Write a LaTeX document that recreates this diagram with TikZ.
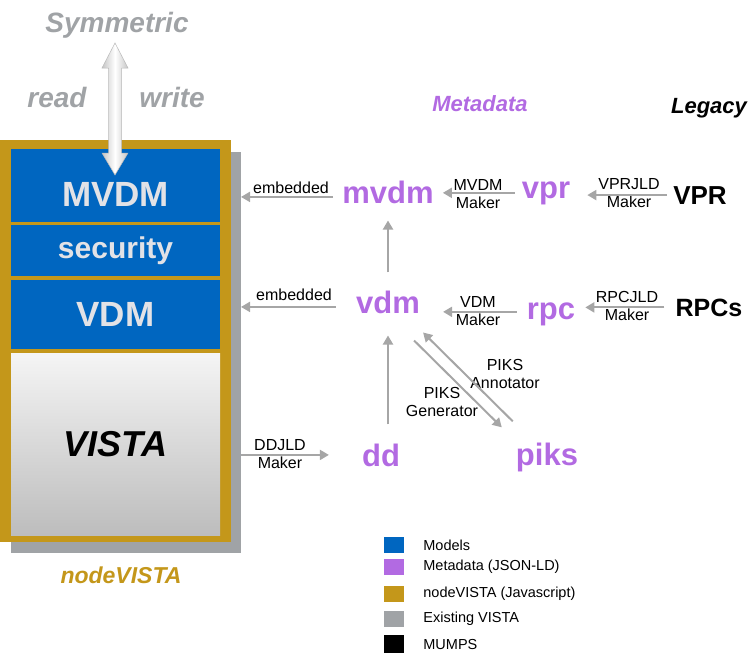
\documentclass[tikz,border=0pt]{standalone}
\usepackage{fontspec}
\setmainfont{Liberation Sans}
\usetikzlibrary{arrows.meta, positioning}

\definecolor{modelblue}{RGB}{0,102,192}
\definecolor{metapurple}{RGB}{178,106,226}
\definecolor{nodegold}{RGB}{196,151,26}
\definecolor{vistagray}{RGB}{160,163,166}
\definecolor{flowgray}{RGB}{166,166,166}
\definecolor{boxtextgray}{RGB}{226,226,230}

\begin{document}
\begin{tikzpicture}[
    x=1pt, y=-1pt,
    backshadow/.style={rectangle, fill=vistagray, minimum width=230pt, minimum height=401pt, anchor=north west, inner sep=0pt, outer sep=0pt},
    frame/.style={rectangle, fill=nodegold, minimum width=231pt, minimum height=402pt, anchor=north west, inner sep=0pt, outer sep=0pt},
    model/.style={rectangle, fill=modelblue, minimum width=209pt, inner sep=0pt, outer sep=0pt, text=boxtextgray, font=\fontsize{35}{35}\selectfont\bfseries},
    vista/.style={rectangle, top color=black!4, bottom color=black!26, minimum width=209pt, inner sep=0pt, outer sep=0pt, font=\fontsize{36}{36}\selectfont\bfseries\itshape},
    meta/.style={font=\fontsize{31}{31}\selectfont\bfseries, text=metapurple, inner sep=0pt},
    legacy/.style={font=\fontsize{26}{26}\selectfont\bfseries, inner sep=0pt},
    title/.style={font=\fontsize{22}{22}\selectfont\bfseries\itshape, inner sep=0pt},
    bigtitle/.style={font=\fontsize{28}{28}\selectfont\bfseries\itshape, text=vistagray, inner sep=0pt},
    lbl/.style={font=\fontsize{16}{18}\selectfont, align=center, inner sep=0pt},
    flow/.style={draw=flowgray, line width=2pt, -{Triangle[length=9pt,width=10pt]}},
    swatch/.style={rectangle, minimum width=20pt, minimum height=16pt, inner sep=0pt},
    legtext/.style={font=\fontsize{14.5}{14.5}\selectfont, inner sep=0pt}
]
\useasboundingbox (0,0) rectangle (753,657);

% nodeVISTA frame
\node[backshadow] (shadow) at (11,152) {};
\node[frame] (frame) at (0,140) {};

% Models and VISTA
\node[model, minimum height=73pt, anchor=north west] (mvdmbox) at (11,149) {};
\node[model] (mvdmtext) at ([yshift=-8.5pt]mvdmbox.center) {MVDM};
\node[model, minimum height=51pt, below=3pt of mvdmbox, font=\fontsize{30}{30}\selectfont\bfseries] (securitybox) {security};
\node[model, minimum height=69pt, below=4pt of securitybox] (vdmbox) {VDM};
\node[vista, minimum height=182pt, below=4pt of vdmbox] (vistabox) {VISTA};

\node[title, text=nodegold, font=\fontsize{23}{23}\selectfont\bfseries\itshape, anchor=base] (nodevista) at (121,583) {nodeVISTA};

% Symmetric read / write
\node[bigtitle, anchor=base] (symmetric) at (117,32) {Symmetric};
\node[bigtitle, anchor=base] (read) at (57,107) {read};
\node[bigtitle, anchor=base] (write) at (172,107) {write};
\shade[left color=gray!45, right color=gray!45, middle color=white, draw=gray!55, line width=0.5pt]
    (115,43) -- (128,68) -- (121.5,68) -- (121.5,153) -- (128,153) -- (115,175)
    -- (102,153) -- (108.5,153) -- (108.5,68) -- (102,68) -- cycle;

% Column titles
\node[title, text=metapurple, anchor=base] (metatitle) at (480,111) {Metadata};
\node[title, anchor=base] (legacytitle) at (709,113) {Legacy};

% Metadata
\node[meta, anchor=base] (mvdm) at (388,203) {mvdm};
\node[meta, anchor=base] (vpr) at (546,198) {vpr};
\node[meta, anchor=base] (vdm) at (388,313) {vdm};
\node[meta, anchor=base] (rpc) at (551,319) {rpc};
\node[meta, anchor=base] (dd) at (381,466) {dd};
\node[meta, anchor=base] (piks) at (547,465) {piks};

% Legacy
\node[legacy, anchor=base] (vprsrc) at (700,204) {VPR};
\node[legacy, anchor=base, font=\fontsize{25}{25}\selectfont\bfseries] (rpcsrc) at (709,316) {RPCs};

% Labels
\node[lbl, anchor=base] (emb1) at (291,193) {embedded};
\node[lbl, anchor=base] (emb2) at (294,300) {embedded};
\node[lbl] (mvdmmaker) at (478,194.5) {MVDM\\Maker};
\node[lbl] (vprmaker) at (629,193.5) {VPRJLD\\Maker};
\node[lbl] (vdmmaker) at (478,311.5) {VDM\\Maker};
\node[lbl] (rpcmaker) at (627,306) {RPCJLD\\Maker};
\node[lbl] (ddmaker) at (280,454) {DDJLD\\Maker};
\node[lbl] (piksgen) at (442,402) {PIKS\\Generator};
\node[lbl] (piksann) at (505,374) {PIKS\\Annotator};

% Arrows
\draw[flow, shorten <=9pt] ([yshift=-5pt]mvdm.west) -- ([yshift=-5pt]mvdm.west -| shadow.east);
\draw[flow, shorten <=7pt, shorten >=9pt] (vpr.west) -- (vpr.west -| mvdm.east);
\draw[flow, shorten <=6pt, shorten >=17pt] (vprsrc.west) -- (vprsrc.west -| vpr.east);
\draw[flow, shorten <=18pt, shorten >=17pt] (vdm.north) -- (mvdm.south);
\draw[flow, shorten <=20pt] ([yshift=-5pt]vdm.west) -- ([yshift=-5pt]vdm.west -| shadow.east);
\draw[flow, shorten <=10pt, shorten >=23pt] ([yshift=2pt]rpc.west) -- ([yshift=2pt]rpc.west -| vdm.east);
\draw[flow, shorten <=11pt, shorten >=10pt] (rpcsrc.west) -- (rpcsrc.west -| rpc.east);
\draw[flow, shorten <=19pt, shorten >=22pt] (dd.north -| vdm.south) -- (vdm.south);
\draw[flow] ([xshift=-6pt, yshift=-27pt]vdm.south east) -- ([xshift=-14pt, yshift=15pt]piks.north west);
\draw[flow] ([xshift=-3pt, yshift=21pt]piks.north west) -- ([xshift=3pt, yshift=-19pt]vdm.south east);
\draw[flow, shorten >=33pt] (dd.west -| shadow.east) -- (dd.west);

% Legend
\node[swatch, fill=modelblue] (legmodels) at (394,545) {};
\node[swatch, fill=metapurple] (legmeta) at (394,567) {};
\node[swatch, fill=nodegold] (legnode) at (394,594) {};
\node[swatch, fill=vistagray] (legvista) at (394,619) {};
\node[swatch, fill=black, minimum height=18pt] (legmumps) at (394,644) {};
\node[legtext, right=19pt of legmodels] (legmodelstext) {Models};
\node[legtext, right=19pt of legmeta] (legmetatext) {Metadata (JSON-LD)};
\node[legtext, right=19pt of legnode] (legnodetext) {nodeVISTA (Javascript)};
\node[legtext, right=19pt of legvista] (legvistatext) {Existing VISTA};
\node[legtext, right=19pt of legmumps] (legmumpstext) {MUMPS};

\end{tikzpicture}
\end{document}
